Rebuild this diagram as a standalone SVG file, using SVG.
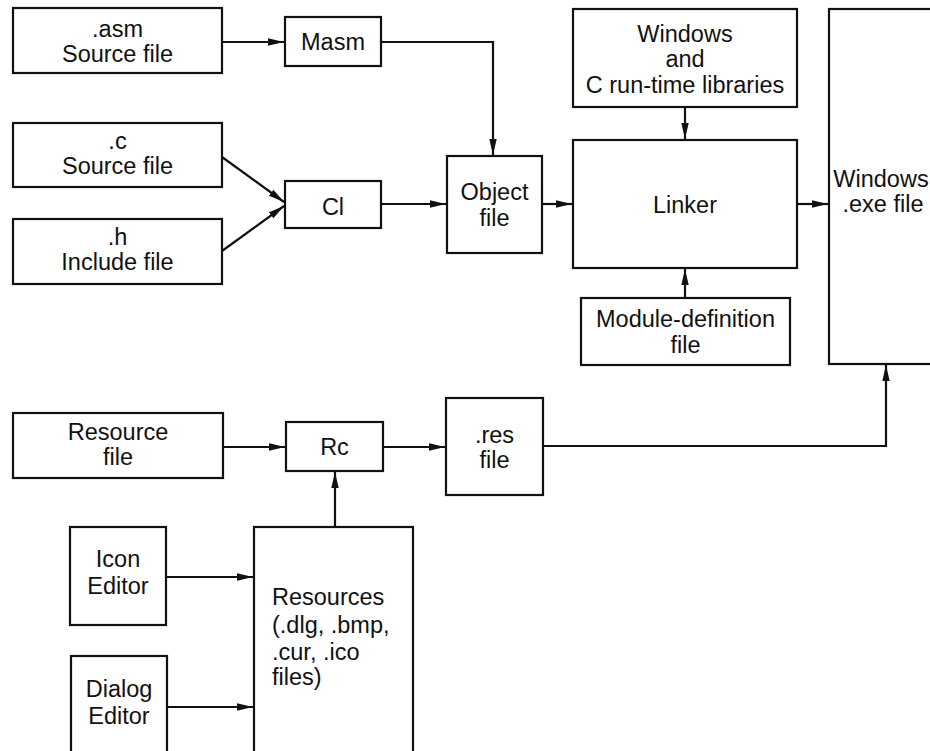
<svg xmlns="http://www.w3.org/2000/svg" width="930" height="751" viewBox="0 0 930 751">
<defs>
<marker id="ah" markerWidth="18" markerHeight="9" refX="16" refY="4.5" orient="auto" markerUnits="userSpaceOnUse">
<path d="M0,0.8 L16,4.5 L0,8.2 Z" fill="#111"/>
</marker>
<style>
rect{fill:#fff;stroke:#111;stroke-width:2.2}
text{font-family:"Liberation Sans",Arial,Helvetica,sans-serif;font-size:23.5px;fill:#111;text-anchor:middle}
.l{text-anchor:start}
.c{fill:none;stroke:#111;stroke-width:2.2;marker-end:url(#ah)}
</style>
</defs>
<rect x="0" y="0" width="930" height="751" style="fill:#fff;stroke:none"/>
<g id="connectors">
<path class="c" d="M222,42 H284"/>
<path class="c" d="M381,42 H493 V155"/>
<path class="c" d="M222,157 L284,202"/>
<path class="c" d="M222,251 L284,206"/>
<path class="c" d="M381,204 H446"/>
<path class="c" d="M542,204 H572"/>
<path class="c" d="M685,107 V139"/>
<path class="c" d="M685,298 V269"/>
<path class="c" d="M797,204 H828"/>
<path class="c" d="M223,447 H285"/>
<path class="c" d="M383,447 H445"/>
<path class="c" d="M543,446 H886 V365"/>
<path class="c" d="M335,527 V472"/>
<path class="c" d="M166,577 H253"/>
<path class="c" d="M167,707 H253"/>
</g>
<g id="asm"><rect x="13" y="8" width="209" height="65"/><text x="117.5" y="37">.asm</text><text x="117.5" y="62">Source file</text></g>
<g id="masm"><rect x="285" y="17" width="96" height="49"/><text x="333" y="50">Masm</text></g>
<g id="csrc"><rect x="13" y="123" width="209" height="64"/><text x="117.5" y="149">.c</text><text x="117.5" y="174">Source file</text></g>
<g id="hinc"><rect x="13" y="219" width="209" height="65"/><text x="117.5" y="245">.h</text><text x="117.5" y="270">Include file</text></g>
<g id="cl"><rect x="285" y="181" width="96" height="47"/><text x="333" y="215">Cl</text></g>
<g id="obj"><rect x="447" y="156" width="95" height="97"/><text x="494.5" y="200">Object</text><text x="494.5" y="226">file</text></g>
<g id="libs"><rect x="573" y="9" width="224" height="98"/><text x="685" y="42">Windows</text><text x="685" y="67">and</text><text x="685" y="93">C run-time libraries</text></g>
<g id="linker"><rect x="573" y="140" width="224" height="128"/><text x="685" y="213">Linker</text></g>
<g id="moddef"><rect x="581" y="298" width="209" height="67"/><text x="685.5" y="327">Module-definition</text><text x="685.5" y="353">file</text></g>
<g id="exe"><rect x="829" y="9" width="115" height="355"/><text x="881" y="187">Windows</text><text x="883" y="212">.exe file</text></g>
<g id="resfile"><rect x="13" y="413" width="210" height="65"/><text x="118" y="440">Resource</text><text x="118" y="465">file</text></g>
<g id="rc"><rect x="286" y="422" width="97" height="49"/><text x="334.5" y="455">Rc</text></g>
<g id="res"><rect x="446" y="398" width="97" height="97"/><text x="494.5" y="443">.res</text><text x="494.5" y="468">file</text></g>
<g id="icon"><rect x="70" y="527" width="96" height="98"/><text x="118" y="567">Icon</text><text x="118" y="594">Editor</text></g>
<g id="dialog"><rect x="71" y="656" width="96" height="110"/><text x="119" y="697">Dialog</text><text x="119" y="724">Editor</text></g>
<g id="resources"><rect x="254" y="527" width="159" height="240"/><text class="l" x="272" y="605">Resources</text><text class="l" x="272" y="633">(.dlg, .bmp,</text><text class="l" x="272" y="660">.cur, .ico</text><text class="l" x="272" y="685">files)</text></g>
</svg>
